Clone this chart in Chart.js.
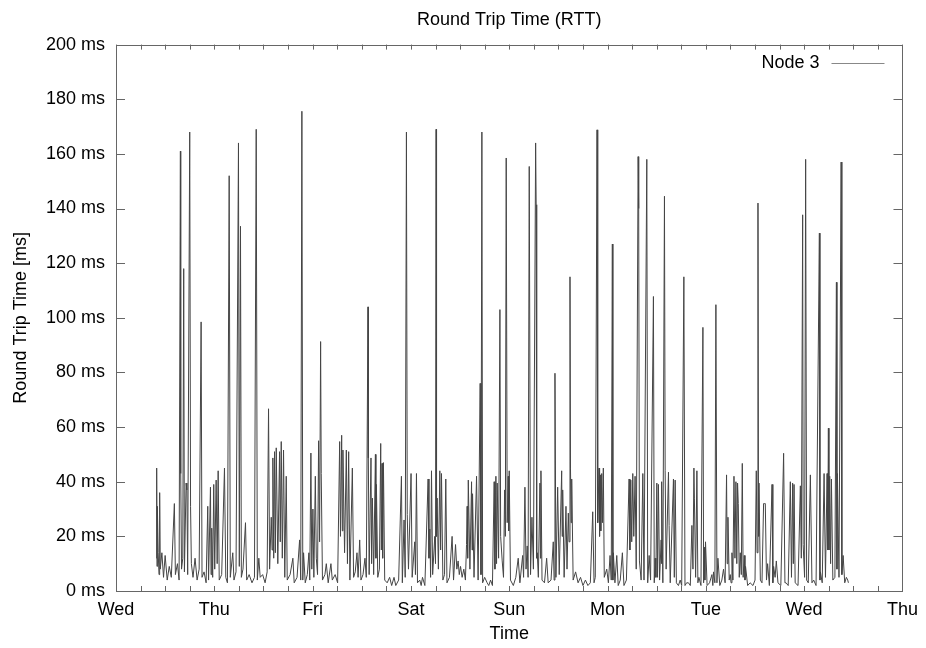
<!DOCTYPE html>
<html>
<head>
<meta charset="utf-8">
<title>Round Trip Time (RTT)</title>
<script src="https://cdn.jsdelivr.net/npm/chart.js@4.4.1/dist/chart.umd.min.js"></script>
<style>
  html, body { margin: 0; padding: 0; background: #fff; }
</style>
</head>
<body>
<canvas id="rtt" width="926" height="648"></canvas>
<script>
// x axis: hours since Wed 00:00, one label per day
const dayLabels = ['Wed', 'Thu', 'Fri', 'Sat', 'Sun', 'Mon', 'Tue', 'Wed', 'Thu'];

// samples: time [h] and RTT [ms]
const hours = [
  9.85, 9.93, 10.02, 10.1, 10.3, 10.5, 10.66, 10.8, 11.2, 11.6,
  12.0, 12.5, 13.0, 13.5, 14.25, 14.5, 15.0, 15.4, 15.72, 15.8,
  16.0, 16.3, 16.53, 16.7, 17.11, 17.3, 17.5, 18.0, 18.2, 18.4,
  18.8, 19.3, 19.8, 20.3, 20.78, 21.0, 21.5, 22.0, 22.4, 22.6,
  23.06, 23.2, 23.37, 23.6, 23.86, 24.1, 24.45, 24.7, 24.94, 25.2,
  25.8, 26.48, 26.8, 27.2, 27.63, 27.9, 28.51, 28.8, 29.3, 29.9,
  30.1, 30.39, 30.6, 31.0, 31.61, 31.9, 32.5, 33.2, 33.8, 34.23,
  34.5, 34.87, 35.2, 35.8, 36.4, 36.9, 37.24, 37.5, 37.9, 38.1,
  38.29, 38.5, 38.7, 38.9, 39.12, 39.5, 39.93, 40.1, 40.34, 40.6,
  40.9, 41.2, 41.56, 41.8, 42.5, 43.18, 43.5, 44.2, 44.82, 45.1,
  45.38, 45.6, 45.79, 46.2, 46.7, 47.09, 47.3, 47.58, 47.8, 48.07,
  48.3, 48.66, 48.9, 49.2, 49.46, 49.7, 49.95, 50.1, 50.4, 51.0,
  51.34, 51.8, 52.47, 52.8, 53.5, 54.1, 54.6, 54.8, 55.09, 55.25,
  55.4, 55.8, 56.23, 56.5, 56.8, 57.1, 57.7, 58.0, 58.4, 58.83,
  59.1, 59.49, 59.8, 60.3, 60.78, 61.1, 61.52, 61.6, 61.8, 62.25,
  62.4, 62.59, 62.9, 63.33, 63.45, 63.57, 63.9, 64.3, 64.62, 64.78,
  64.94, 65.1, 65.28, 65.6, 66.2, 66.8, 67.3, 67.87, 68.3, 69.0,
  69.68, 69.9, 70.32, 70.6, 70.9, 71.1, 71.4, 72.03, 72.3, 72.93,
  73.1, 73.35, 73.6, 74.16, 74.5, 74.82, 75.4, 76.19, 76.4, 76.6,
  76.8, 77.02, 77.3, 77.82, 78.0, 78.14, 78.25, 78.39, 78.7, 79.05,
  79.25, 79.46, 79.8, 80.2, 80.51, 80.8, 81.4, 82.05, 82.4, 82.89,
  83.2, 83.52, 83.8, 84.11, 84.5, 84.91, 85.3, 85.57, 85.72, 85.85,
  86.0, 86.4, 86.8, 86.92, 87.04, 87.4, 88.02, 88.4, 88.9, 89.1,
  89.32, 89.5, 90.0, 90.61, 91.0, 91.44, 91.9, 92.32, 92.5, 92.74,
  92.9, 93.06, 93.4, 93.72, 93.9, 94.28, 94.6, 94.87, 95.05, 95.26,
  95.5, 95.75, 95.87, 95.99, 96.3, 97.0, 97.6, 98.19, 98.6, 99.27,
  99.5, 99.83, 100.1, 100.39, 100.6, 100.88, 101.2, 101.54, 101.9, 102.44,
  102.57, 102.7, 102.84, 103.1, 103.5, 103.62, 103.74, 104.0, 104.6, 105.13,
  105.5, 106.2, 106.75, 106.95, 107.16, 107.4, 107.82, 108.2, 108.8, 108.92,
  109.05, 109.4, 109.85, 110.1, 110.42, 110.6, 110.83, 110.95, 111.1, 111.25,
  111.6, 112.2, 112.8, 113.4, 114.0, 114.6, 115.2, 115.8, 116.38, 116.7,
  117.0, 117.43, 117.6, 117.92, 118.05, 118.17, 118.35, 118.58, 118.75, 118.97,
  119.2, 119.8, 120.2, 120.61, 120.9, 121.17, 121.3, 121.42, 121.8, 122.25,
  122.6, 123.1, 123.62, 124.0, 124.6, 125.26, 125.45, 125.67, 125.9, 126.16,
  126.4, 126.72, 127.0, 127.46, 127.6, 127.78, 128.2, 128.61, 128.9, 129.58,
  129.8, 130.15, 130.5, 131.2, 131.4, 131.61, 131.8, 132.03, 132.2, 132.42,
  132.7, 133.08, 133.16, 133.25, 133.5, 133.89, 134.06, 134.3, 134.87, 135.03,
  135.3, 136.09, 136.3, 136.5, 136.8, 137.3, 137.73, 138.1, 138.63, 138.9,
  139.3, 139.75, 140.2, 140.59, 140.85, 141.08, 141.2, 141.5, 141.81, 142.05,
  142.3, 142.8, 143.28, 143.45, 143.59, 143.75, 143.91, 144.3, 144.9, 145.48,
  145.7, 145.87, 146.2, 146.45, 146.7, 146.94, 147.4, 147.9, 148.31, 148.7,
  149.05, 149.2, 149.39, 149.7, 149.95, 150.15, 150.37, 150.6, 150.86, 151.1,
  151.34, 151.55, 151.74, 151.91, 152.15, 152.4, 152.65, 152.89, 153.1, 153.37,
  153.55, 153.69, 154.2, 154.8, 155.5, 156.0, 156.31, 156.5, 156.72, 156.85,
  156.97, 157.3, 157.7, 158.09, 158.3, 158.51, 158.8, 159.07, 159.5, 160.15,
  160.35, 160.54, 160.9, 161.2, 161.6, 162.3, 162.98, 163.3, 163.57, 164.1,
  164.62, 164.9, 165.18, 165.35, 165.53, 165.8, 166.5, 167.07, 167.3, 167.63,
  167.75, 167.87, 168.1, 168.36, 168.6, 169.0, 169.51, 169.9, 170.32, 170.9,
  171.71, 171.85, 171.96, 172.4, 172.86, 173.2, 173.59, 173.75, 173.91, 174.05,
  174.23, 174.45, 174.65, 175.0, 175.5, 175.87, 176.0, 176.11, 176.5, 177.02,
  177.2, 177.51, 177.9, 178.3, 178.63, 178.8
];

const rttMs = [
  12, 45, 9, 31, 14, 6, 36, 8, 14, 5,
  13, 4, 9, 5, 32, 6, 10, 4, 161, 43,
  8, 12, 118, 7, 39.5, 37, 6, 168, 31, 10,
  5, 12, 4, 8, 98.5, 5, 7, 3, 31, 4,
  38, 6, 23, 5, 39, 8, 40.6, 10, 44, 4,
  6, 45, 5, 3, 152, 5, 14, 4, 7, 164,
  9, 133.5, 5, 8, 25, 4, 6, 3, 5, 169,
  4, 12, 5, 6, 3, 7, 66.7, 8, 27, 15,
  48.7, 12, 51, 14, 52.4, 10, 51, 18, 54.7, 12,
  51.6, 5, 42, 4, 6, 12, 3, 5, 18.7, 4,
  175.6, 4, 14, 3, 6, 14, 4, 50.5, 8, 30,
  5, 42, 12, 6, 55, 18, 91.3, 43, 4, 6,
  10, 3, 10, 4, 6, 3, 54.7, 20, 57, 22,
  51.6, 14, 51.6, 10, 51, 4, 45, 5, 7, 14,
  5, 18.7, 4, 6, 12, 5, 104, 48.7, 6, 48.7,
  10, 34, 6, 50, 12, 39, 5, 8, 54, 15,
  46.7, 12, 47, 4, 3, 5, 2, 5, 2, 4,
  42, 3, 26, 5, 168, 28, 8, 43, 5, 18,
  6, 43, 3, 4, 2, 5, 2, 41, 12, 22.7,
  5, 44, 6, 20, 10, 169, 20, 34, 8, 44,
  15, 43, 4, 6, 41, 3, 5, 20, 4, 17,
  8, 11, 6, 9, 5, 8, 4, 17, 31, 12,
  40.6, 8, 40, 15, 35.6, 5, 42, 4, 76, 6,
  168, 3, 5, 3, 2, 4, 2, 40, 8, 42,
  10, 39.5, 12, 103, 20, 11, 5, 37, 20, 158.5,
  25, 42, 22, 44, 4, 2, 5, 12, 3, 13,
  5, 38, 8, 16.5, 5, 155.4, 6, 27, 8, 164,
  141.4, 12, 14, 5, 39.5, 12, 44, 4, 3, 12,
  3, 4, 18, 4, 79.7, 5, 38, 6, 44, 20,
  37, 5, 31, 8, 28.5, 18, 115, 45, 25, 41,
  4, 7, 3, 5, 2, 4, 2, 3, 29, 3,
  5, 168.8, 25, 45, 20, 42.5, 22, 43, 25, 45,
  5, 8, 3, 13, 4, 127, 4, 14, 3, 13,
  2, 4, 14, 2, 4, 41, 15, 40.6, 18, 43,
  20, 42, 8, 159, 140, 11, 4, 43, 4, 158,
  3, 13, 4, 107.8, 3, 12, 5, 39.5, 5, 39,
  4, 18.7, 10, 40, 3, 144.5, 44, 8, 43.5, 24,
  3, 41, 5, 40.6, 3, 2, 4, 2, 115, 2,
  3, 3, 2, 24, 8, 45, 34, 5, 44, 3,
  5, 2, 96.5, 3, 16, 4, 18, 2, 3, 6,
  2, 7, 3, 104.8, 3, 12, 2, 4, 8, 3,
  42.5, 10, 27, 4, 6, 3, 14, 4, 42, 12,
  40, 10, 39.5, 32, 5, 14, 6, 46.7, 5, 13,
  4, 9, 2, 3, 2, 4, 44, 14, 142, 20,
  39.5, 4, 3, 32, 32, 32, 4, 10, 2, 39,
  3, 9, 5, 11, 3, 2, 50.4, 3, 3, 2,
  40, 5, 39.5, 10, 39, 3, 2, 38.5, 12, 137.7,
  17, 17, 5, 158, 4, 3, 42.5, 3, 4, 2,
  131, 4, 7, 3, 43, 5, 43, 15, 59.6, 15,
  42, 10, 41, 4, 5, 113, 8, 43, 5, 157,
  6, 13, 3, 5, 4, 3
];

const seriesName = 'Node 3';
const lineColor = '#454545';
const frameColor = '#666';
const fontFamily = '"Liberation Sans", Arial, Helvetica, sans-serif';
const font = { family: fontFamily, size: 18 };

const points = [];
for (let i = 0; i < Math.min(hours.length, rttMs.length); i++) {
  points.push({ x: hours[i], y: rttMs[i] });
}

// gnuplot style: box round the plot and ticks pointing inwards on all four sides
const frameAndTicks = {
  id: 'frameAndTicks',
  afterDatasetsDraw(chart) {
    const { ctx, chartArea: a, scales: { x, y } } = chart;
    ctx.save();
    ctx.strokeStyle = frameColor;
    ctx.lineWidth = 1;
    ctx.beginPath();
    for (let h = x.min; h <= x.max; h += 6) {
      const px = Math.round(x.getPixelForValue(h)) + 0.5;
      ctx.moveTo(px, a.bottom); ctx.lineTo(px, a.bottom - 5);
      ctx.moveTo(px, a.top); ctx.lineTo(px, a.top + 5);
    }
    y.ticks.forEach(t => {
      const py = Math.round(y.getPixelForValue(t.value)) + 0.5;
      ctx.moveTo(a.left, py); ctx.lineTo(a.left + 9, py);
      ctx.moveTo(a.right, py); ctx.lineTo(a.right - 9, py);
    });
    ctx.stroke();
    ctx.strokeRect(Math.round(a.left) + 0.5, Math.round(a.top) + 0.5,
      Math.round(a.right - a.left), Math.round(a.bottom - a.top));
    ctx.restore();
  }
};

// key in the top right corner: label first, line sample after it
const gnuKey = {
  id: 'gnuKey',
  afterDraw(chart) {
    const { ctx, chartArea: a } = chart;
    const ds = chart.data.datasets[0];
    const yMid = a.top + 18;
    const lineEnd = a.right - 18;
    const lineStart = lineEnd - 53;
    ctx.save();
    ctx.font = `18px ${fontFamily}`;
    ctx.fillStyle = '#000';
    ctx.textAlign = 'right';
    ctx.textBaseline = 'middle';
    ctx.fillText(ds.label, lineStart - 12, yMid);
    ctx.strokeStyle = '#888';
    ctx.lineWidth = 1;
    ctx.beginPath();
    ctx.moveTo(lineStart, Math.round(yMid) + 0.5);
    ctx.lineTo(lineEnd, Math.round(yMid) + 0.5);
    ctx.stroke();
    ctx.restore();
  }
};

new Chart(document.getElementById('rtt'), {
  type: 'line',
  data: {
    datasets: [{
      label: seriesName,
      data: points,
      borderColor: lineColor,
      backgroundColor: lineColor,
      borderWidth: 1,
      pointRadius: 0,
      tension: 0,
      fill: false
    }]
  },
  options: {
    responsive: false,
    animation: false,
    normalized: true,
    layout: { padding: { left: 0, right: 23, top: 0, bottom: 0 } },
    plugins: {
      title: {
        display: true,
        text: 'Round Trip Time (RTT)',
        color: '#000',
        font: { ...font, weight: 'normal' },
        fullSize: false,
        padding: { top: 9, bottom: 14 }
      },
      legend: { display: false },
      tooltip: { enabled: false }
    },
    scales: {
      x: {
        type: 'linear',
        min: 0,
        max: 192,
        grid: { display: false, drawTicks: false },
        border: { display: false },
        ticks: {
          stepSize: 24,
          autoSkip: false,
          maxRotation: 0,
          padding: 8,
          color: '#000',
          font: font,
          callback: v => dayLabels[v / 24]
        },
        title: {
          display: true,
          text: 'Time',
          color: '#000',
          font: font,
          padding: { top: 0, bottom: 3 }
        },
        afterFit(scale) { scale.height = 57; }
      },
      y: {
        min: 0,
        max: 200,
        grid: { display: false, drawTicks: false },
        border: { display: false },
        ticks: {
          stepSize: 20,
          padding: 11,
          color: '#000',
          font: font,
          callback: v => v + ' ms'
        },
        title: {
          display: true,
          text: 'Round Trip Time [ms]',
          color: '#000',
          font: font,
          padding: { top: 10, bottom: 0 }
        },
        afterFit(scale) { scale.width = 116; }
      }
    }
  },
  plugins: [frameAndTicks, gnuKey]
});
</script>
</body>
</html>
